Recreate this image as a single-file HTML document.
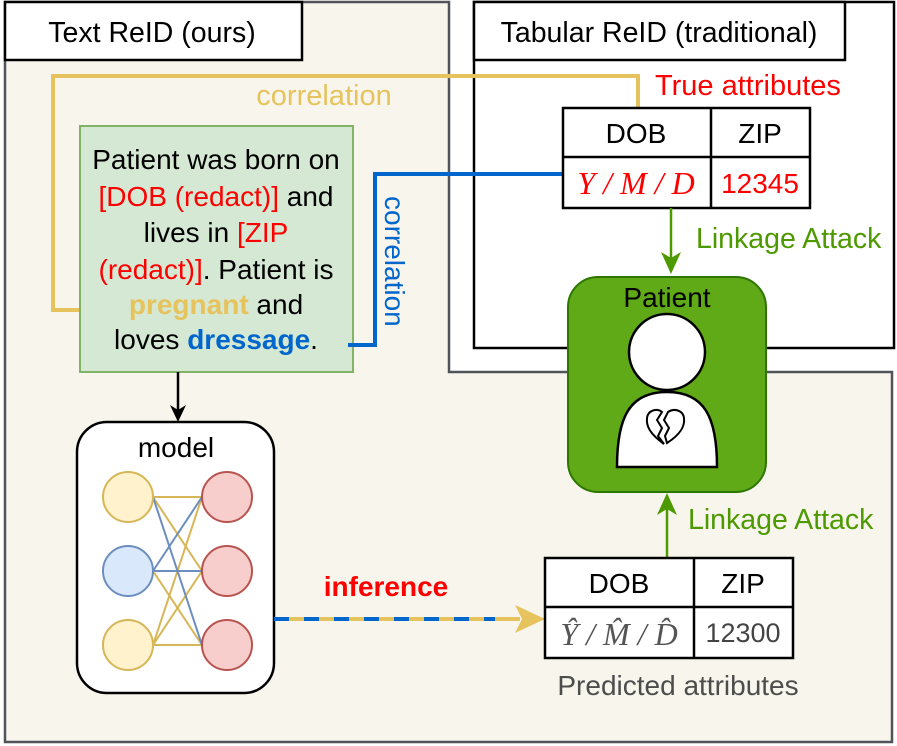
<!DOCTYPE html>
<html><head><meta charset="utf-8"><style>
html,body{margin:0;padding:0;background:#fff;}
svg{display:block;font-family:"Liberation Sans",sans-serif;}
</style></head><body>
<svg width="897" height="746" viewBox="0 0 897 746" xmlns="http://www.w3.org/2000/svg">
<path d="M5,2 L449,2 L449,372 L892,372 L892,742 L5,742 Z" fill="#f8f5ec" stroke="#50545a" stroke-width="2.5"/>
<rect x="474" y="2" width="420" height="346" fill="#fff" stroke="#000" stroke-width="2.5"/>
<rect x="474" y="2" width="371" height="58" fill="#fff" stroke="#000" stroke-width="2.5"/>
<text x="659" y="42" font-size="28.5" text-anchor="middle">Tabular ReID (traditional)</text>
<rect x="5" y="2" width="297" height="58" fill="#fff" stroke="#000" stroke-width="2.5"/>
<text x="152" y="42" font-size="28.5" text-anchor="middle">Text ReID (ours)</text>

<polyline points="80,310 53,310 53,76 638,76 638,108" fill="none" stroke="#e6c35c" stroke-width="4"/>
<text x="324" y="105" font-size="29" fill="#e6c35c" text-anchor="middle">correlation</text>
<text x="655" y="95" font-size="29" fill="#ff0000">True attributes</text>

<rect x="80" y="126" width="273" height="246" fill="#d5e8d4" stroke="#82b366" stroke-width="2"/>
<g font-size="28" text-anchor="middle">
<text x="216" y="169">Patient was born on</text>
<text x="216" y="206"><tspan fill="#ff0000">[DOB (redact)]</tspan> and</text>
<text x="216" y="242">lives in <tspan fill="#ff0000">[ZIP</tspan></text>
<text x="216" y="279"><tspan fill="#ff0000">(redact)]</tspan>. Patient is</text>
<text x="216" y="314"><tspan fill="#e6c35c" font-weight="bold">pregnant</tspan> and</text>
<text x="216" y="349">loves <tspan fill="#0066cc" font-weight="bold">dressage</tspan>.</text>
</g>

<polyline points="348,345 375,345 375,174 563,174" fill="none" stroke="#0066cc" stroke-width="4"/>
<text x="0" y="0" font-size="28" fill="#0066cc" transform="translate(385,196) rotate(90)">correlation</text>

<rect x="563" y="108" width="247" height="100" fill="#fff" stroke="#000" stroke-width="2.5"/>
<line x1="711" y1="108" x2="711" y2="208" stroke="#000" stroke-width="2.5"/>
<line x1="563" y1="157" x2="810" y2="157" stroke="#000" stroke-width="2.5"/>
<text x="636" y="143" font-size="28" text-anchor="middle">DOB</text>
<text x="760" y="143" font-size="28" text-anchor="middle">ZIP</text>
<text x="636" y="194" font-size="32" font-style="italic" fill="#ff0000" text-anchor="middle" font-family="Liberation Serif,serif">Y / M / D</text>
<text x="760" y="193" font-size="28" fill="#ff0000" text-anchor="middle">12345</text>

<line x1="671" y1="208" x2="671" y2="262" stroke="#4d9900" stroke-width="2.5"/>
<path d="M661,252 L671,274 L681,252 L671,258 Z" fill="#4d9900"/>
<text x="696" y="248" font-size="28.5" fill="#4d9900">Linkage Attack</text>

<rect x="568" y="277" width="198" height="215" rx="30" fill="#60a917" stroke="#2d7600" stroke-width="2"/>
<text x="667" y="307" font-size="28" text-anchor="middle">Patient</text>
<circle cx="667" cy="352" r="38" fill="#fff" stroke="#000" stroke-width="2.5"/>
<path d="M617,467 L717,467 C717,418 705,392 667,392 C629,392 617,418 617,467 Z" fill="#fff" stroke="#000" stroke-width="2.5"/>
<path d="M664,444 C650,434 646,426 647,418 C648,410 657,408 662,412 L657,420 L662,428 L658,436 Z" fill="none" stroke="#000" stroke-width="2"/>
<path d="M667,443 C681,434 685,426 684,418 C683,410 674,408 668,412 L664,420 L669,428 L665,436 Z" fill="none" stroke="#000" stroke-width="2"/>

<line x1="667" y1="558" x2="667" y2="505" stroke="#4d9900" stroke-width="2.5"/>
<path d="M657,515 L667,493 L677,515 L667,509 Z" fill="#4d9900"/>
<text x="688" y="529" font-size="28.5" fill="#4d9900">Linkage Attack</text>

<line x1="178" y1="372" x2="178" y2="412" stroke="#000" stroke-width="2.5"/>
<path d="M170,405 L178,422 L186,405 L178,410 Z" fill="#000"/>

<rect x="77" y="422" width="197" height="271" rx="30" fill="#fff" stroke="#000" stroke-width="2.5"/>
<text x="176" y="457" font-size="28" text-anchor="middle">model</text>
<g stroke-width="2">
<g stroke="#d6b656">
<line x1="153" y1="497" x2="202" y2="497"/><line x1="153" y1="497" x2="202" y2="571"/>
<line x1="153" y1="645" x2="202" y2="497"/><line x1="153" y1="645" x2="202" y2="571"/><line x1="153" y1="645" x2="202" y2="645"/>
<line x1="153" y1="571" x2="202" y2="645"/>
</g>
<g stroke="#6c8ebf">
<line x1="153" y1="497" x2="202" y2="645"/>
<line x1="153" y1="571" x2="202" y2="497"/><line x1="153" y1="571" x2="202" y2="571"/>
</g>
<circle cx="128" cy="497" r="25" fill="#fff2cc" stroke="#d6b656"/>
<circle cx="128" cy="571" r="25" fill="#dae8fc" stroke="#6c8ebf"/>
<circle cx="128" cy="645" r="25" fill="#fff2cc" stroke="#d6b656"/>
<circle cx="227" cy="497" r="25" fill="#f8cecc" stroke="#b85450"/>
<circle cx="227" cy="571" r="25" fill="#f8cecc" stroke="#b85450"/>
<circle cx="227" cy="645" r="25" fill="#f8cecc" stroke="#b85450"/>
</g>

<line x1="274" y1="619" x2="520" y2="619" stroke="#e6c35c" stroke-width="4"/>
<line x1="274" y1="619" x2="495" y2="619" stroke="#0066cc" stroke-width="4" stroke-dasharray="15,15"/>
<path d="M515,605 L545,619 L515,633 L522,619 Z" fill="#e6c35c"/>
<text x="386" y="596" font-size="28" font-weight="bold" fill="#ff0000" text-anchor="middle">inference</text>

<rect x="545" y="558" width="248" height="100" fill="#fff" stroke="#000" stroke-width="2.5"/>
<line x1="694" y1="558" x2="694" y2="658" stroke="#000" stroke-width="2.5"/>
<line x1="545" y1="607" x2="793" y2="607" stroke="#000" stroke-width="2.5"/>
<text x="619" y="593" font-size="28" text-anchor="middle">DOB</text>
<text x="743" y="593" font-size="28" text-anchor="middle">ZIP</text>
<text x="619" y="645" font-size="32" font-style="italic" fill="#555" text-anchor="middle" font-family="Liberation Serif,serif">Ŷ / M̂ / D̂</text>
<text x="743" y="642" font-size="27" fill="#444" text-anchor="middle">12300</text>
<text x="678" y="695" font-size="28" fill="#4d4d4d" text-anchor="middle">Predicted attributes</text>
</svg>
</body></html>
